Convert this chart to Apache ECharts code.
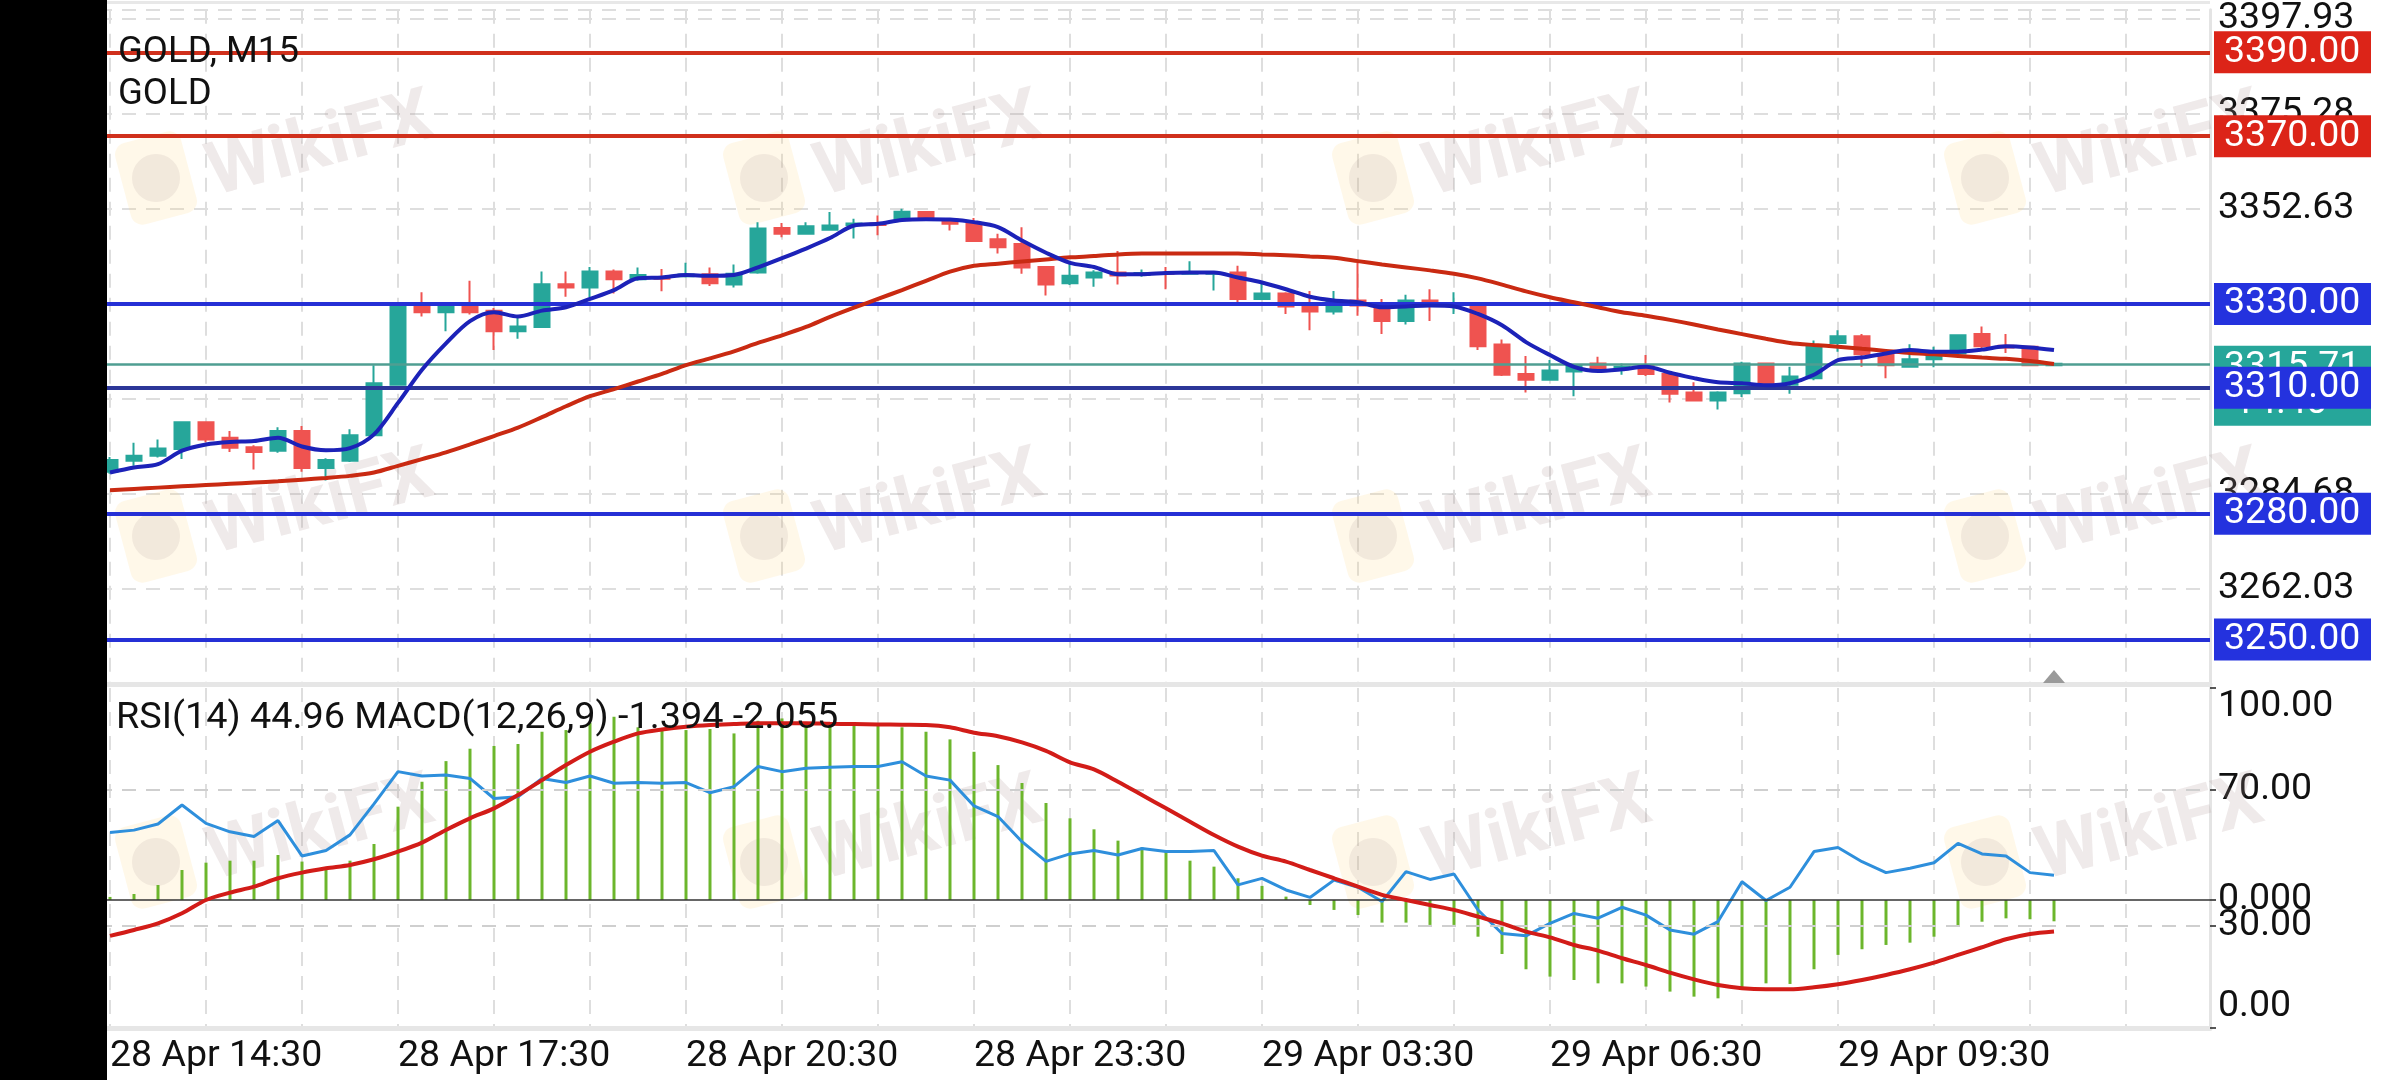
<!DOCTYPE html>
<html>
<head>
<meta charset="utf-8">
<script src="https://cdn.jsdelivr.net/npm/echarts/dist/echarts.min.js"></script>
<style>html,body{margin:0;padding:0;background:#fff}#c{width:2400px;height:1080px}</style>
</head>
<body>
<div id="c"></div>
<script>
// ---------------- DATA ----------------
const symbolName = 'GOLD, M15';
const symbolDesc = 'GOLD';
const xTickLabels = ['28 Apr 14:30','28 Apr 17:30','28 Apr 20:30','28 Apr 23:30','29 Apr 03:30','29 Apr 06:30','29 Apr 09:30'];

const openP = [3290.0,3292.6,3293.8,3295.4,3301.8,3298.1,3295.8,3295.0,3299.7,3290.9,
3292.6,3298.7,3310.7,3329.4,3328.0,3329.6,3328.4,3323.5,3324.5,3334.7,
3333.9,3337.7,3335.9,3336.2,3336.6,3337.1,3334.6,3337.5,3348.1,3346.7,
3347.7,3348.8,3349.2,3350.3,3351.9,3350.1,3349.1,3345.4,3344.3,3338.8,
3334.9,3336.3,3337.5,3336.9,3337.4,3337.2,3337.2,3337.5,3331.2,3332.5,
3330.0,3328.2,3330.8,3329.6,3325.9,3330.8,3329.6,3329.8,3320.3,3313.3,
3311.9,3313.9,3315.8,3314.6,3315.4,3313.3,3308.9,3307.0,3308.7,3315.8,
3310.7,3312.3,3320.7,3322.3,3318.0,3315.0,3316.8,3318.2,3322.8,3320.0,
3319.8,3315.4];
const closeP = [3292.8,3293.8,3295.5,3301.8,3297.7,3295.7,3294.7,3299.7,3290.9,3292.8,
3298.7,3311.1,3329.9,3328.0,3329.6,3328.0,3323.5,3324.6,3334.7,3333.9,
3337.7,3335.9,3336.9,3336.0,3337.0,3334.9,3337.2,3348.0,3346.7,3348.5,
3348.7,3349.2,3348.8,3352.0,3350.1,3349.1,3345.0,3343.5,3338.7,3334.6,
3336.7,3337.5,3336.8,3337.4,3337.2,3337.5,3337.4,3331.2,3332.5,3329.4,
3328.2,3330.8,3329.6,3325.9,3330.8,3329.6,3330.0,3319.9,3313.1,3311.9,
3314.1,3315.2,3314.4,3315.0,3313.3,3308.6,3307.0,3308.9,3315.8,3310.7,
3312.7,3320.2,3322.3,3318.0,3315.4,3316.8,3318.2,3322.5,3319.9,3319.6,
3315.4,3315.71];
const highP = [3293.5,3296.9,3297.7,3302.0,3302.0,3299.7,3296.3,3300.6,3300.9,3293.2,
3300.1,3315.4,3330.2,3332.8,3330.0,3335.5,3329.0,3326.9,3337.7,3337.7,
3338.8,3338.2,3338.7,3338.3,3339.8,3338.7,3339.4,3349.5,3349.3,3349.5,
3351.9,3350.3,3351.1,3352.7,3352.1,3350.3,3350.5,3346.7,3348.3,3339.0,
3340.0,3338.0,3342.6,3338.2,3338.8,3340.2,3337.6,3339.1,3335.1,3332.8,
3333.1,3333.1,3339.8,3331.2,3332.2,3333.5,3332.8,3330.2,3321.5,3317.6,
3316.6,3315.6,3317.4,3315.8,3317.8,3313.6,3311.3,3309.2,3316.2,3316.0,
3315.0,3321.3,3323.7,3322.8,3318.2,3320.4,3319.8,3322.7,3324.6,3322.8,
3320.0,3316.0];
const lowP = [3289.5,3291.4,3293.4,3293.0,3297.0,3294.7,3290.5,3294.5,3290.0,3287.9,
3292.3,3298.5,3310.5,3327.0,3323.5,3327.5,3319.0,3321.7,3324.3,3331.7,
3331.6,3332.5,3335.5,3333.0,3336.3,3334.3,3333.9,3337.2,3345.9,3346.5,
3347.7,3345.6,3346.4,3350.0,3349.9,3347.5,3344.8,3342.0,3337.2,3332.0,
3334.5,3334.1,3334.6,3336.5,3333.5,3337.0,3333.2,3330.4,3331.0,3327.6,
3323.7,3327.5,3327.2,3322.8,3325.1,3325.9,3327.6,3319.0,3312.8,3308.9,
3311.7,3308.0,3313.9,3313.1,3312.8,3306.5,3306.8,3304.8,3307.8,3310.5,
3308.6,3311.8,3318.6,3315.0,3312.3,3314.9,3314.9,3318.0,3319.5,3318.3,
3315.2,3315.2];

const maFast = [3289.8,3291.0,3291.8,3295.0,3296.5,3297.1,3297.3,3298.1,3296.0,3295.1,
3295.6,3298.9,3306.4,3314.3,3320.6,3325.9,3328.0,3327.0,3328.4,3329.2,
3331.2,3333.3,3336.1,3336.3,3336.9,3336.7,3336.9,3338.7,3340.9,3343.2,
3345.7,3348.7,3349.1,3350.0,3350.2,3350.1,3349.5,3348.3,3345.1,3342.2,
3339.8,3338.8,3337.1,3337.1,3337.4,3337.5,3337.5,3336.3,3335.1,3333.5,
3331.7,3330.8,3330.4,3329.2,3329.4,3329.6,3329.4,3327.6,3324.9,3320.9,
3317.8,3315.0,3314.0,3314.4,3315.0,3313.6,3312.3,3311.3,3311.1,3310.6,
3311.1,3313.1,3316.6,3317.2,3318.2,3319.0,3318.6,3318.6,3319.1,3319.9,
3319.6,3319.0];
const maSlow = [3285.6,3285.9,3286.2,3286.5,3286.8,3287.1,3287.4,3287.7,3288.1,3288.5,
3289.0,3289.8,3291.4,3293.0,3294.6,3296.5,3298.5,3300.5,3303.0,3305.6,
3308.0,3309.7,3311.5,3313.3,3315.4,3317.0,3318.7,3320.7,3322.5,3324.5,
3326.9,3329.1,3331.2,3333.3,3335.5,3337.7,3339.1,3339.6,3340.1,3340.6,
3341.1,3341.4,3341.8,3342.0,3342.0,3342.0,3342.0,3342.0,3341.8,3341.6,
3341.3,3341.0,3340.2,3339.4,3338.7,3338.0,3337.2,3336.1,3334.6,3333.0,
3331.6,3330.4,3329.2,3328.0,3327.2,3326.2,3325.1,3323.9,3322.8,3321.7,
3320.7,3320.2,3319.8,3319.3,3318.8,3318.3,3318.0,3317.6,3317.2,3316.9,
3316.4,3315.7];

const rsi = [57.5,58.2,60.0,65.6,60.2,57.7,56.3,61.0,50.6,52.2,
56.8,65.9,75.4,74.1,74.4,73.4,67.5,68.0,73.4,72.2,
74.1,72.0,72.2,72.0,72.2,69.2,71.0,76.9,75.4,76.4,
76.7,76.9,76.9,78.3,74.1,72.9,65.3,62.2,54.8,49.0,
51.2,52.2,50.9,52.8,51.9,51.9,52.2,42.1,44.0,40.6,
38.4,43.5,41.4,37.2,46.0,43.7,45.3,34.7,27.8,27.1,
30.8,33.7,32.3,35.5,33.2,28.8,27.6,31.3,43.0,37.5,
41.4,51.9,53.1,48.9,45.7,47.0,48.6,54.3,51.2,50.6,
45.7,44.96];
const macd = [0.20,0.39,0.98,1.96,2.44,2.57,2.57,2.94,2.51,2.07,
2.57,3.66,6.10,7.73,9.08,9.89,10.07,10.20,11.00,11.11,
11.59,11.98,11.29,11.15,11.11,11.18,10.89,11.72,11.87,11.59,
11.50,11.50,11.44,11.29,11.00,10.50,9.69,8.82,7.65,6.34,
5.34,4.62,3.88,3.44,3.16,2.57,2.18,1.42,0.92,0.22,
-0.33,-0.65,-0.98,-1.48,-1.48,-1.63,-1.63,-2.40,-3.53,-4.53,
-5.01,-5.23,-5.45,-5.45,-5.66,-5.99,-6.32,-6.43,-5.77,-5.45,
-5.49,-4.53,-3.59,-3.22,-2.94,-2.79,-2.40,-1.70,-1.42,-1.20,
-1.26,-1.394];
const signal = [-2.35,-1.96,-1.53,-0.87,0.00,0.48,0.87,1.42,1.79,2.07,
2.29,2.66,3.16,3.75,4.58,5.34,5.99,6.86,7.84,8.82,
9.69,10.35,10.89,11.15,11.33,11.44,11.50,11.55,11.55,11.55,
11.52,11.50,11.48,11.46,11.44,11.29,10.94,10.70,10.30,9.75,
9.00,8.54,7.73,6.86,5.99,5.12,4.25,3.49,2.90,2.51,
1.96,1.42,0.87,0.33,0.00,-0.33,-0.65,-1.09,-1.53,-2.07,
-2.44,-2.94,-3.31,-3.81,-4.25,-4.75,-5.19,-5.56,-5.77,-5.84,
-5.84,-5.71,-5.51,-5.23,-4.90,-4.53,-4.10,-3.59,-3.09,-2.57,
-2.22,-2.055];

const resistanceLevels = [3390, 3370];
const supportLevels = [3330, 3310, 3280, 3250];
const currentPrice = 3315.71;
const candleTimer = '14:40';

const priceAxisMin = 3239.38, priceAxisMax = 3400.15, priceAxisStep = 22.65;
const rsiTicks = [0, 30, 70, 100];
const macdTicks = [0];
const totalSlots = 88;

// ---------------- CATEGORIES (15-minute bars, session break 23:45 -> 01:00) ----------------
function buildCategories(n) {
  const out = [];
  let day = 28, mins = 14 * 60 + 30;
  const pad = v => (v < 10 ? '0' : '') + v;
  for (let i = 0; i < n; i++) {
    out.push(day + ' Apr ' + pad(Math.floor(mins / 60)) + ':' + pad(mins % 60));
    mins += 15;
    if (mins >= 24 * 60) { day += 1; mins = 60; }
  }
  return out;
}
const categories = buildCategories(totalSlots);

// ---------------- STYLES ----------------
const FONT = 'Roboto';
const FS = 37.5;
const BULL = '#26a69a', BEAR = '#ef5350';
const GRIDC = '#dedede';
const candleData = openP.map((o, i) => [o, closeP[i], lowP[i], highP[i]]);

const lvlLabel = (bg) => ({
  show: true, position: 'end', distance: 4,
  formatter: p => p.value.toFixed(2),
  backgroundColor: bg, color: '#fff', fontSize: FS, fontFamily: FONT,
  lineHeight: 36, padding: [3, 10, 3, 10], width: 137, align: 'left'
});
const levelItems = [];
resistanceLevels.forEach(v => levelItems.push({
  yAxis: v, lineStyle: { color: '#d0301c', width: 4, type: 'solid' }, label: lvlLabel('#dc2418')
}));
levelItems.push({
  yAxis: currentPrice, lineStyle: { color: '#4f9e92', width: 2.5, type: 'solid' },
  label: {
    show: true, position: 'end', distance: 4,
    formatter: p => '{e| }\n{p|' + p.value.toFixed(2) + '}\n{t|' + candleTimer + '}',
    rich: {
      e: { height: 44, fontSize: 10 },
      p: { backgroundColor: BULL, color: '#fff', fontSize: FS, fontFamily: FONT, lineHeight: 36, padding: [3, 10, 3, 10], width: 137, align: 'left' },
      t: { backgroundColor: BULL, color: '#fff', fontSize: FS, fontFamily: FONT, lineHeight: 36, padding: [3, 10, 3, 20], width: 127, align: 'left' }
    }
  }
});
supportLevels.forEach((v, k) => levelItems.push({
  yAxis: v, lineStyle: { color: k === 1 ? '#2c3698' : '#2530d6', width: 4, type: 'solid' }, label: lvlLabel('#2432de')
}));

const wmCols = [321, 929, 1538, 2150];
const wmRows = [148, 506, 832];
const watermarks = [];
wmRows.forEach(y => wmCols.forEach(x => {
  watermarks.push({
    type: 'rect', x: x - 165, y: y + 30, rotation: 0.26, z: 1, silent: true,
    shape: { x: -34, y: -42, width: 68, height: 84, r: 12 },
    style: { fill: 'rgba(252,214,120,0.16)' }
  });
  watermarks.push({
    type: 'circle', x: x - 165, y: y + 30, z: 1, silent: true,
    shape: { cx: 0, cy: 0, r: 24 }, style: { fill: 'rgba(160,140,140,0.14)' }
  });
  watermarks.push({
    type: 'text', x: x, y: y, rotation: 0.26, z: 1, silent: true,
    style: { text: 'WikiFX', fontSize: 74, fontWeight: 'bold', fontFamily: FONT,
      fill: 'rgba(175,150,150,0.20)', align: 'center', verticalAlign: 'middle' }
  });
}));

const last = rsi.length - 1;
const indicatorTitle = 'RSI(14) ' + rsi[last].toFixed(2) + ' MACD(12,26,9) ' + macd[last].toFixed(3) + ' ' + signal[last].toFixed(3);

const chart = echarts.init(document.getElementById('c'), null, { width: 2400, height: 1080 });
const option = {
  animation: false,
  backgroundColor: '#ffffff',
  grid: [
    { left: 98, right: 190, top: 3, height: 681 },
    { left: 98, right: 190, top: 688, height: 340 }
  ],
  xAxis: [
    {
      type: 'category', gridIndex: 0, data: categories, boundaryGap: true,
      axisLine: { show: true, lineStyle: { color: '#e6e6e6', width: 5 } },
      axisTick: { show: false }, axisLabel: { show: false },
      splitLine: { show: true, interval: i => i % 4 === 0, alignWithLabel: true,
        lineStyle: { color: GRIDC, width: 2, type: [14, 10] } }
    },
    {
      type: 'category', gridIndex: 1, data: categories, boundaryGap: true,
      axisLine: { show: true, lineStyle: { color: '#e6e6e6', width: 5 } },
      axisTick: { show: false },
      axisLabel: {
        show: true, interval: (i, v) => xTickLabels.indexOf(v) >= 0,
        align: 'left', fontSize: FS, fontFamily: FONT, color: '#111', margin: 10
      },
      splitLine: { show: true, interval: i => i % 4 === 0, alignWithLabel: true,
        lineStyle: { color: GRIDC, width: 2, type: [14, 10] } }
    }
  ],
  yAxis: [
    {
      type: 'value', gridIndex: 0, position: 'right', scale: true,
      min: priceAxisMin, max: priceAxisMax, interval: priceAxisStep,
      axisLine: { show: true, lineStyle: { color: '#e4e4e4', width: 3 } },
      axisTick: { show: false },
      axisLabel: { fontSize: FS, fontFamily: FONT, color: '#111', margin: 8,
        showMinLabel: false, showMaxLabel: false, formatter: v => v.toFixed(2) },
      splitLine: { show: true, lineStyle: { color: GRIDC, width: 2, type: [14, 10] } }
    },
    {
      type: 'value', gridIndex: 1, position: 'right', min: 0, max: 100,
      axisLine: { show: true, lineStyle: { color: '#e4e4e4', width: 3 } },
      axisTick: { show: true, length: 6, customValues: rsiTicks, lineStyle: { color: '#222', width: 1.5 } },
      axisLabel: {
        customValues: rsiTicks, fontSize: FS, fontFamily: FONT, color: '#111', margin: 8,
        formatter: v => v === 100 ? '{dn|100.00}' : (v === 0 ? '{up|0.00}' : v.toFixed(2)),
        rich: {
          dn: { fontSize: FS, fontFamily: FONT, color: '#111', padding: [38, 0, 0, 0] },
          up: { fontSize: FS, fontFamily: FONT, color: '#111', padding: [0, 0, 42, 0] }
        }
      },
      splitLine: { show: false }
    },
    {
      type: 'value', gridIndex: 1, position: 'right', min: -8.37, max: 13.86,
      axisLine: { show: false },
      axisTick: { show: true, length: 6, customValues: macdTicks, lineStyle: { color: '#222', width: 1.5 } },
      axisLabel: { customValues: macdTicks, fontSize: FS, fontFamily: FONT, color: '#111', margin: 8,
        formatter: v => v.toFixed(3) },
      splitLine: { show: false }
    }
  ],
  series: [
    {
      name: 'GOLD', type: 'candlestick', xAxisIndex: 0, yAxisIndex: 0, z: 2,
      data: candleData, barWidth: 16,
      itemStyle: { color: BULL, color0: BEAR, borderColor: BULL, borderColor0: BEAR, borderWidth: 2 },
      markLine: { symbol: ['none', 'none'], silent: true, animation: false, data: levelItems }
    },
    {
      name: 'MA slow', type: 'line', xAxisIndex: 0, yAxisIndex: 0, z: 5, data: maSlow,
      symbol: 'none', smooth: 0.3, lineStyle: { color: '#c92a12', width: 4 }
    },
    {
      name: 'MA fast', type: 'line', xAxisIndex: 0, yAxisIndex: 0, z: 6, data: maFast,
      symbol: 'none', smooth: 0.3, lineStyle: { color: '#1c22b8', width: 4 }
    },
    {
      name: 'MACD', type: 'bar', xAxisIndex: 1, yAxisIndex: 2, z: 2, data: macd, barWidth: 3,
      itemStyle: { color: '#6cb62c' },
      markLine: { symbol: ['none', 'none'], silent: true, animation: false, label: { show: false },
        lineStyle: { color: '#333', width: 1.5, type: 'solid' }, data: [{ yAxis: 0 }] }
    },
    {
      name: 'RSI', type: 'line', xAxisIndex: 1, yAxisIndex: 1, z: 4, data: rsi,
      symbol: 'none', lineStyle: { color: '#2e8fdc', width: 3 },
      markLine: { symbol: ['none', 'none'], silent: true, animation: false, label: { show: false },
        lineStyle: { color: '#cfcfcf', width: 2, type: [14, 10] }, data: [{ yAxis: 70 }, { yAxis: 30 }] }
    },
    {
      name: 'Signal', type: 'line', xAxisIndex: 1, yAxisIndex: 2, z: 5, data: signal,
      symbol: 'none', smooth: 0.3, lineStyle: { color: '#d21c18', width: 4 }
    }
  ],
  graphic: watermarks.concat([
    { type: 'rect', z: 100, silent: true, shape: { x: 0, y: 0, width: 107, height: 1080 }, style: { fill: '#000' } },
    { type: 'rect', z: 50, silent: true, shape: { x: 107, y: 1, width: 2103, height: 3 }, style: { fill: '#e8e8e8' } },
    { type: 'text', z: 60, silent: true, style: { x: 118, y: 53, text: symbolName, fontSize: 36.5, fontFamily: FONT, fill: '#111', verticalAlign: 'middle' } },
    { type: 'text', z: 60, silent: true, style: { x: 118, y: 95, text: symbolDesc, fontSize: 36.5, fontFamily: FONT, fill: '#111', verticalAlign: 'middle' } },
    { type: 'text', z: 60, silent: true, style: { x: 116, y: 719, text: indicatorTitle, fontSize: 37.8, fontFamily: FONT, fill: '#111', verticalAlign: 'middle' } },
    { type: 'polygon', z: 60, silent: true, shape: { points: [[2043, 683], [2065, 683], [2054, 670]] }, style: { fill: '#9a9a9a' } }
  ])
};
chart.setOption(option);
</script>
</body>
</html>
